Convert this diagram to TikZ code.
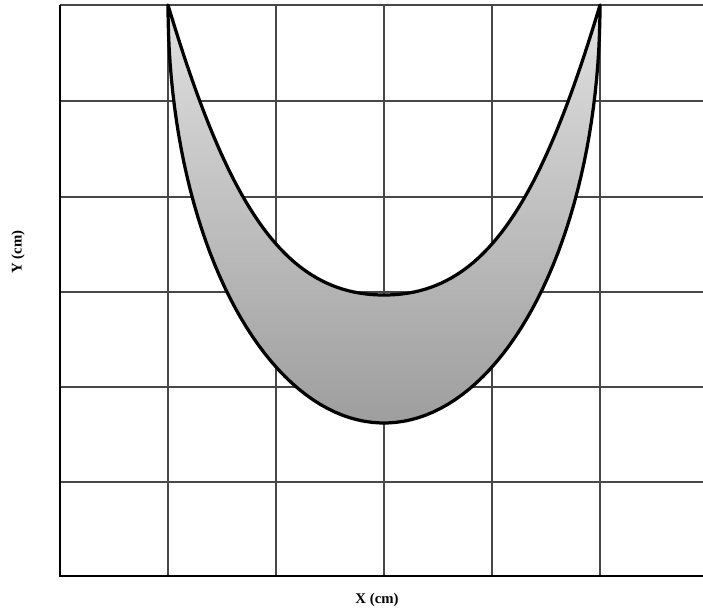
\documentclass[tikz,border=0pt]{standalone}
\usepackage{fontspec}
\setmainfont{Liberation Serif}
\usepackage{tikz}
\tikzset{
  grid-line/.style={draw=black!72, line width=0.95pt},
  axis-line/.style={draw=black, line width=2.1pt},
  crescent-fill/.style={draw=black, line width=2.3pt, line join=round,
    top color=black!12, bottom color=black!38},
  axis-label/.style={font=\fontsize{10.5}{12}\selectfont\bfseries, inner sep=0pt}
}

\begin{document}
\begin{tikzpicture}[x=0.025cm, y=-0.025cm]
  \useasboundingbox (0,0) rectangle (703,612);
  \foreach \gx in {168,276,384,492,600}
    \draw[grid-line] (\gx,5) -- (\gx,576);
  \foreach \gy in {5,101,197,292,387,482}
    \draw[grid-line] (60,\gy) -- (703,\gy);
  \filldraw[crescent-fill] plot[domain=180:360, samples=90] ({384+216*cos(\x)},{5-418*sin(\x)})
    .. controls (540,205) and (484,295) .. (384,295)
    .. controls (284,295) and (228,205) .. (168,5) -- cycle;
  \draw[axis-line] (60,5) -- (60,576) -- (703,576);
  \node[axis-label] (xlabel) at (377,600) {X (cm)};
  \node[axis-label, rotate=90] (ylabel) at (18,252) {Y (cm)};
\end{tikzpicture}
\end{document}
